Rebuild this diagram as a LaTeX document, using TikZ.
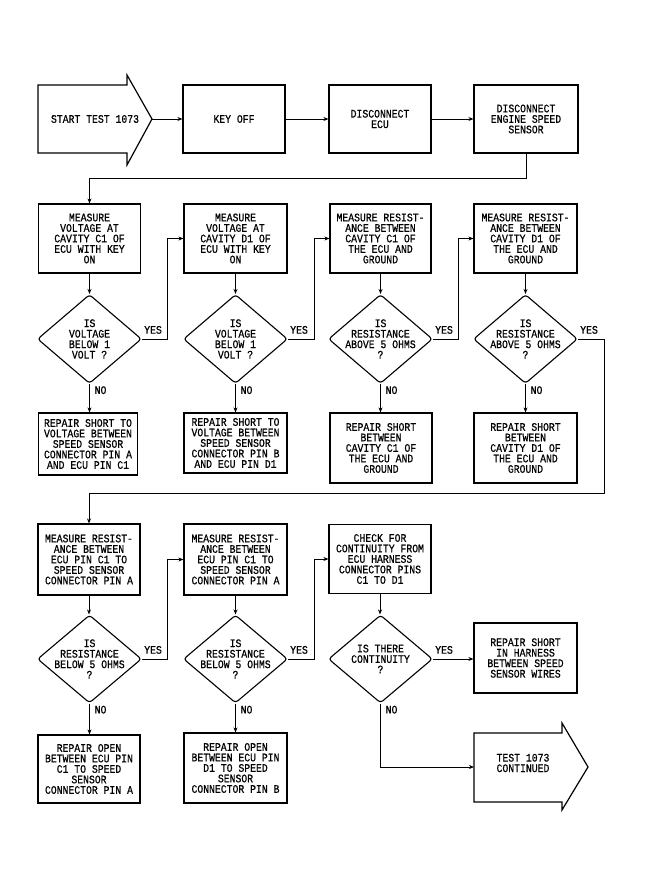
\documentclass[tikz,border=0pt]{standalone}
\usepackage{fontspec}
\newfontfamily\plotfont[FakeStretch=0.85,FakeBold=0.6]{Liberation Mono}
\usetikzlibrary{shapes.geometric,arrows.meta,calc}
\begin{document}
\begin{tikzpicture}[x=1pt,y=-1pt,
  tf/.style={font=\plotfont\fontsize{11.5}{10.5}\selectfont},
  box/.style={draw,line width=1.2pt,minimum width=102pt,minimum height=69pt,inner sep=0pt,align=center,tf},
  dia/.style={draw,diamond,line width=1.1pt,minimum width=104pt,minimum height=89pt,inner sep=0pt,rounded corners=3pt},
  txt/.style={align=center,inner sep=0pt,tf},
  lbl/.style={inner sep=0pt,tf},
  arr/.style={line width=0.9pt,-{Stealth[length=5pt,width=4pt]}},
  shp/.style={draw,line width=1.2pt}]
\useasboundingbox (0,0) rectangle (657,891);
\fill[white] (0,0) rectangle (657,891);

% ---- row 1
\draw[shp] (38,85) -- (127,85) -- (127,75) -- (152,119) -- (127,165) -- (127,153) -- (38,153) -- cycle;
\node[txt] (starttxt) at (95,119) {START TEST 1073};
\coordinate (starttip) at (152,119);
\node[box,minimum height=68pt] (keyoff) at (234,119) {KEY OFF};
\node[box,minimum height=68pt] (discecu) at (380,119) {DISCONNECT\\ECU};
\node[box,minimum height=68pt,minimum width=104pt] (discsensor) at (526,119) {DISCONNECT\\ENGINE SPEED\\SENSOR};

% ---- row 2
\node[box] (m1) at (89.5,238.5) {MEASURE\\VOLTAGE AT\\CAVITY C1 OF\\ECU WITH KEY\\ON};
\node[box,minimum width=103pt] (m2) at (235.5,238.5) {MEASURE\\VOLTAGE AT\\CAVITY D1 OF\\ECU WITH KEY\\ON};
\node[box,minimum width=101pt] (m3) at (380.5,238.5) {MEASURE RESIST-\\ANCE BETWEEN\\CAVITY C1 OF\\THE ECU AND\\GROUND};
\node[box,minimum width=103pt] (m4) at (525.5,238.5) {MEASURE RESIST-\\ANCE BETWEEN\\CAVITY D1 OF\\THE ECU AND\\GROUND};

\node[dia] (d1) at (89.5,339) {};
\node[txt] (d1t) at (d1) {IS\\VOLTAGE\\BELOW 1\\VOLT ?};
\node[dia] (d2) at (235.5,339) {};
\node[txt] (d2t) at (d2) {IS\\VOLTAGE\\BELOW 1\\VOLT ?};
\node[dia] (d3) at (380.5,339) {};
\node[txt] (d3t) at (d3) {IS\\RESISTANCE\\ABOVE 5 OHMS\\?};
\node[dia] (d4) at (525.5,339) {};
\node[txt] (d4t) at (d4) {IS\\RESISTANCE\\ABOVE 5 OHMS\\?};

\node[box,minimum width=99pt,minimum height=62pt] (r1) at (88,444) {REPAIR SHORT TO\\VOLTAGE BETWEEN\\SPEED SENSOR\\CONNECTOR PIN A\\AND ECU PIN C1};
\node[box,minimum width=103pt,minimum height=60pt] (r2) at (235.5,443) {REPAIR SHORT TO\\VOLTAGE BETWEEN\\SPEED SENSOR\\CONNECTOR PIN B\\AND ECU PIN D1};
\node[box,minimum height=70pt] (r3) at (381,448) {REPAIR SHORT\\BETWEEN\\CAVITY C1 OF\\THE ECU AND\\GROUND};
\node[box,minimum width=103pt,minimum height=70pt] (r4) at (525.5,448) {REPAIR SHORT\\BETWEEN\\CAVITY D1 OF\\THE ECU AND\\GROUND};

% ---- row 3
\node[box,minimum height=71pt] (m5) at (89,559.5) {MEASURE RESIST-\\ANCE BETWEEN\\ECU PIN C1 TO\\SPEED SENSOR\\CONNECTOR PIN A};
\node[box,minimum width=103pt,minimum height=71pt] (m6) at (235.5,559.5) {MEASURE RESIST-\\ANCE BETWEEN\\ECU PIN C1 TO\\SPEED SENSOR\\CONNECTOR PIN A};
\node[box] (c7) at (380,559) {CHECK FOR\\CONTINUITY FROM\\ECU HARNESS\\CONNECTOR PINS\\C1 TO D1};

\node[dia,minimum height=88pt] (d5) at (89.5,659) {};
\node[txt] (d5t) at (d5) {IS\\RESISTANCE\\BELOW 5 OHMS\\?};
\node[dia,minimum height=88pt] (d6) at (235.5,659) {};
\node[txt] (d6t) at (d6) {IS\\RESISTANCE\\BELOW 5 OHMS\\?};
\node[dia,minimum height=88pt] (d7) at (380.5,659) {};
\node[txt] (d7t) at (d7) {IS THERE\\CONTINUITY\\?};

\node[box,minimum width=103pt,minimum height=70pt] (r8) at (525.5,658) {REPAIR SHORT\\IN HARNESS\\BETWEEN SPEED\\SENSOR WIRES};
\node[box,minimum height=68pt] (r5) at (89,769) {REPAIR OPEN\\BETWEEN ECU PIN\\C1 TO SPEED\\SENSOR\\CONNECTOR PIN A};
\node[box,minimum width=103pt,minimum height=70pt] (r6) at (235.5,768) {REPAIR OPEN\\BETWEEN ECU PIN\\D1 TO SPEED\\SENSOR\\CONNECTOR PIN B};

\draw[shp] (474,733) -- (562,733) -- (562,723) -- (588,767) -- (562,810) -- (562,802) -- (474,802) -- cycle;
\node[txt] (conttxt) at (523,763) {TEST 1073\\CONTINUED};
\coordinate (conttail) at (474,767);

% ---- connectors
\draw[arr] (starttip) -- (keyoff);
\draw[arr] (keyoff) -- (discecu);
\draw[arr] (discecu) -- (discsensor);
\draw[arr] (discsensor.south) -- ++(0,25) -| (m1.north);

\foreach \i in {1,2,3,4} {
  \draw[arr] (m\i.south) -- (m\i.south |- d\i.north);
  \draw[arr] (d\i.south) -- (d\i.south |- r\i.north);
  \node[lbl,anchor=north west] (no\i) at ($(d\i.south)+(5,2)$) {NO};
  \node[lbl,anchor=south west] (yes\i) at ($(d\i.east)+(2,-5)$) {YES};
}
\draw[arr] (d1.east) -- ++(25,0) |- (m2.west);
\draw[arr] (d2.east) -- ++(26,0) |- (m3.west);
\draw[arr] (d3.east) -- ++(25,0) |- (m4.west);
\coordinate (turn) at (604,493);
\draw[arr] (d4.east) -| (turn) -| (m5.north);

\draw[arr] (m5.south) -- (m5.south |- d5.north);
\draw[arr] (m6.south) -- (m6.south |- d6.north);
\draw[arr] (c7.south) -- (c7.south |- d7.north);
\draw[arr] (d5.south) -- (d5.south |- r5.north);
\draw[arr] (d6.south) -- (d6.south |- r6.north);
\foreach \i in {5,6,7} {
  \node[lbl,anchor=north west] (no\i) at ($(d\i.south)+(5,2)$) {NO};
  \node[lbl,anchor=south west] (yes\i) at ($(d\i.east)+(2,-5)$) {YES};
}
\draw[arr] (d5.east) -- ++(25,0) |- (m6.west);
\draw[arr] (d6.east) -- ++(26,0) |- (c7.west);
\draw[arr] (d7.east) -- (d7.east -| r8.west);
\draw[arr] (d7.south) |- (conttail);
\end{tikzpicture}
\end{document}
